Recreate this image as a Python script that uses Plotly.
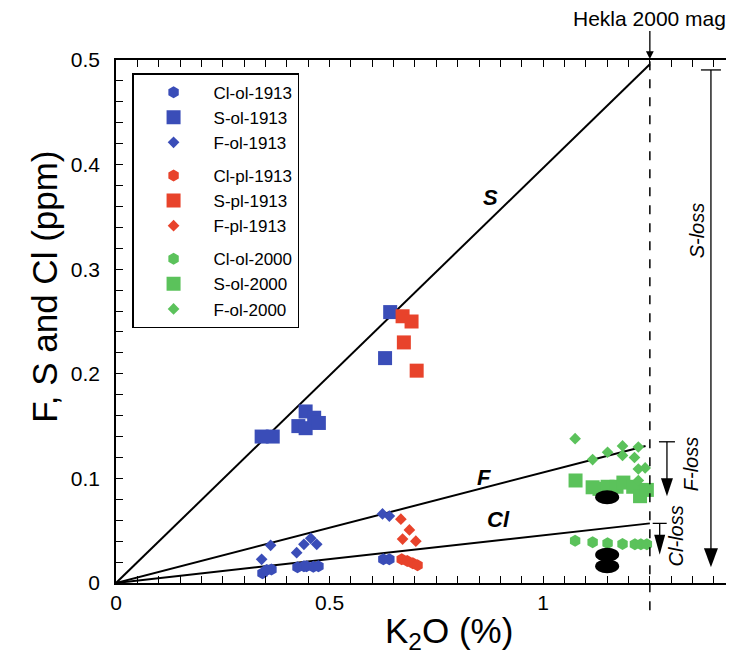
import plotly.graph_objects as go

# ---------------- data ----------------
cl_ol_1913_x = [0.343, 0.353, 0.364, 0.425, 0.440, 0.446, 0.462, 0.474, 0.626, 0.640]
cl_ol_1913_y = [0.0093, 0.0124, 0.013, 0.015, 0.016, 0.016, 0.0156, 0.016, 0.0226, 0.0226]
s_ol_1913_x = [0.341, 0.367, 0.427, 0.444, 0.444, 0.464, 0.475, 0.630, 0.642]
s_ol_1913_y = [0.140, 0.140, 0.150, 0.148, 0.164, 0.158, 0.153, 0.215, 0.259]
f_ol_1913_x = [0.341, 0.362, 0.423, 0.440, 0.456, 0.470, 0.624, 0.640]
f_ol_1913_y = [0.0226, 0.036, 0.029, 0.037, 0.0427, 0.037, 0.066, 0.064]

cl_pl_1913_x = [0.669, 0.682, 0.695, 0.706]
cl_pl_1913_y = [0.0226, 0.021, 0.019, 0.017]
s_pl_1913_x = [0.671, 0.692, 0.674, 0.704]
s_pl_1913_y = [0.255, 0.250, 0.230, 0.203]
f_pl_1913_x = [0.667, 0.687, 0.671, 0.702]
f_pl_1913_y = [0.061, 0.0507, 0.042, 0.040]

cl_ol_2000_x = [1.075, 1.116, 1.151, 1.186, 1.215, 1.229, 1.243]
cl_ol_2000_y = [0.0405, 0.039, 0.038, 0.0373, 0.037, 0.037, 0.037]
s_ol_2000_x = [1.076, 1.116, 1.132, 1.151, 1.172, 1.188, 1.211, 1.227, 1.243]
s_ol_2000_y = [0.098, 0.0915, 0.090, 0.092, 0.092, 0.096, 0.092, 0.083, 0.089]
f_ol_2000_x = [1.075, 1.116, 1.151, 1.186, 1.223, 1.186, 1.214, 1.223, 1.239, 1.223]
f_ol_2000_y = [0.138, 0.118, 0.125, 0.131, 0.130, 0.122, 0.120, 0.109, 0.110, 0.098]

# trend lines from origin (K2O end, value end)
trend_names = ["S", "F", "Cl"]
trend_end_x = [1.25, 1.24, 1.25]
trend_end_y = [0.496, 0.131, 0.057]
trend_label_x = [0.876, 0.862, 0.895]
trend_label_y = [0.369, 0.101, 0.061]

hekla_k2o = 1.25
# melt-inclusion black ellipses (K2O, value)
ellipse_x = [1.15, 1.15, 1.15]
ellipse_y = [0.082, 0.027, 0.016]

# loss arrows
loss_names = ["S-loss", "F-loss", "Cl-loss"]
loss_x = [1.393, 1.29, 1.273]
loss_top = [0.4905, 0.135, 0.057]
loss_tip = [0.015, 0.083, 0.027]
loss_label_x = [1.36, 1.345, 1.31]
loss_label_y = [0.337, 0.114, 0.045]

BLUE = "#3a4db8"
RED = "#e8432b"
GREEN = "#5bc25b"

XMAX = 1.447
PXX = XMAX / 618.0
PXY = 0.5 / 523.0

fig = go.Figure()

def add(name, xs, ys, color, symbol, size, group):
    fig.add_trace(go.Scatter(x=xs, y=ys, mode="markers", name=name,
                             legendgroup=group,
                             marker=dict(color=color, symbol=symbol, size=size,
                                         line=dict(width=0))))

for n, ex, ey in zip(trend_names, trend_end_x, trend_end_y):
    fig.add_trace(go.Scatter(x=[0, ex], y=[0, ey], mode="lines",
                             line=dict(color="black", width=2),
                             showlegend=False, hoverinfo="skip"))

add("Cl-ol-1913", cl_ol_1913_x, cl_ol_1913_y, BLUE, "hexagon", 12, "a")
add("S-ol-1913", s_ol_1913_x, s_ol_1913_y, BLUE, "square", 14, "a")
add("F-ol-1913", f_ol_1913_x, f_ol_1913_y, BLUE, "diamond", 9, "a")
add("Cl-pl-1913", cl_pl_1913_x, cl_pl_1913_y, RED, "hexagon", 12, "b")
add("S-pl-1913", s_pl_1913_x, s_pl_1913_y, RED, "square", 14, "b")
add("F-pl-1913", f_pl_1913_x, f_pl_1913_y, RED, "diamond", 9, "b")
add("Cl-ol-2000", cl_ol_2000_x, cl_ol_2000_y, GREEN, "hexagon", 12, "c")
add("S-ol-2000", s_ol_2000_x, s_ol_2000_y, GREEN, "square", 14, "c")
add("F-ol-2000", f_ol_2000_x, f_ol_2000_y, GREEN, "diamond", 9, "c")

shapes = []
shapes.append(dict(type="line", xref="x", yref="paper", x0=hekla_k2o, x1=hekla_k2o,
                   y0=-0.052, y1=1.0, line=dict(color="black", width=1.5, dash="dash")))
for ex, ey in zip(ellipse_x, ellipse_y):
    shapes.append(dict(type="circle", xref="x", yref="y",
                       x0=ex - 12 * PXX, x1=ex + 12 * PXX,
                       y0=ey - 7 * PXY, y1=ey + 7 * PXY,
                       fillcolor="black", line=dict(color="black", width=0)))
cap_half = [10, 8, 7]
tri_w = [7, 6, 5.5]
tri_h = [19, 18, 20]
for lx, lt, lb, ch, tw, th in zip(loss_x, loss_top, loss_tip, cap_half, tri_w, tri_h):
    shapes.append(dict(type="line", xref="x", yref="y", x0=lx, x1=lx,
                       y0=lt, y1=lb + th * PXY * 0.5, line=dict(color="black", width=1.3)))
    shapes.append(dict(type="line", xref="x", yref="y", x0=lx - ch * PXX, x1=lx + ch * PXX,
                       y0=lt, y1=lt, line=dict(color="black", width=1.3)))
    path = "M {a},{b} L {c},{d} L {e},{f} Z".format(
        a=lx - tw * PXX, b=lb + th * PXY, c=lx + tw * PXX, d=lb + th * PXY, e=lx, f=lb)
    shapes.append(dict(type="path", xref="x", yref="y", path=path,
                       fillcolor="black", line=dict(color="black", width=0)))

annotations = []
for n, tx, ty in zip(trend_names, trend_label_x, trend_label_y):
    annotations.append(dict(x=tx, y=ty, xref="x", yref="y", text="<b><i>%s</i></b>" % n,
                            showarrow=False, font=dict(size=22, color="black")))
for n, tx, ty in zip(loss_names, loss_label_x, loss_label_y):
    annotations.append(dict(x=tx, y=ty, xref="x", yref="y", text="<i>%s</i>" % n,
                            showarrow=False, textangle=-90,
                            font=dict(size=20, color="black")))
annotations.append(dict(x=hekla_k2o, y=0.5, xref="x", yref="y", text="Hekla 2000 mag",
                        showarrow=True, ax=0, ay=-42, arrowhead=2, arrowsize=1.2,
                        arrowwidth=1.3, arrowcolor="black", standoff=1,
                        font=dict(size=21, color="black")))
annotations.append(dict(x=0.78, y=-0.096, xref="x", yref="paper", text="K<sub>2</sub>O (%)",
                        showarrow=False, yanchor="middle", font=dict(size=35, color="black")))
annotations.append(dict(x=-0.15, y=0.566, xref="paper", yref="paper",
                        text="F, S and Cl (ppm)", textangle=-90,
                        showarrow=False, font=dict(size=35, color="black")))

fig.update_layout(
    width=726, height=655,
    margin=dict(l=108, r=0, t=52, b=80),
    paper_bgcolor="white", plot_bgcolor="white",
    font=dict(family="Liberation Sans, Arial, sans-serif", color="black"),
    showlegend=True,
    legend=dict(x=0.026, y=0.975, xanchor="left", yanchor="top",
                bordercolor="black", borderwidth=1.5, bgcolor="white",
                font=dict(size=17), tracegroupgap=8, itemwidth=70),
    shapes=shapes, annotations=annotations,
)
fig.update_xaxes(range=[0, XMAX], showgrid=False, zeroline=False,
                 showline=True, linecolor="black", linewidth=1.5, mirror="ticks",
                 ticks="inside", ticklen=7, tickwidth=1.2, tickcolor="black",
                 tickvals=[0, 0.5, 1], ticktext=["0", "0.5", "1"],
                 tickfont=dict(size=21),
                 minor=dict(dtick=0.05, ticks="inside", ticklen=7, tickwidth=1.2,
                            tickcolor="black", showgrid=False))
fig.update_yaxes(range=[0, 0.5], showgrid=False, zeroline=False,
                 showline=True, linecolor="black", linewidth=1.5, mirror=False,
                 ticks="inside", ticklen=7, tickwidth=1.2, tickcolor="black",
                 tickvals=[0, 0.1, 0.2, 0.3, 0.4, 0.5],
                 ticktext=["0", "0.1", "0.2", "0.3", "0.4", "0.5"],
                 tickfont=dict(size=21), ticklabelstandoff=10,
                 minor=dict(dtick=0.02, ticks="inside", ticklen=7, tickwidth=1.2,
                            tickcolor="black", showgrid=False))

fig.write_html("out.html")
